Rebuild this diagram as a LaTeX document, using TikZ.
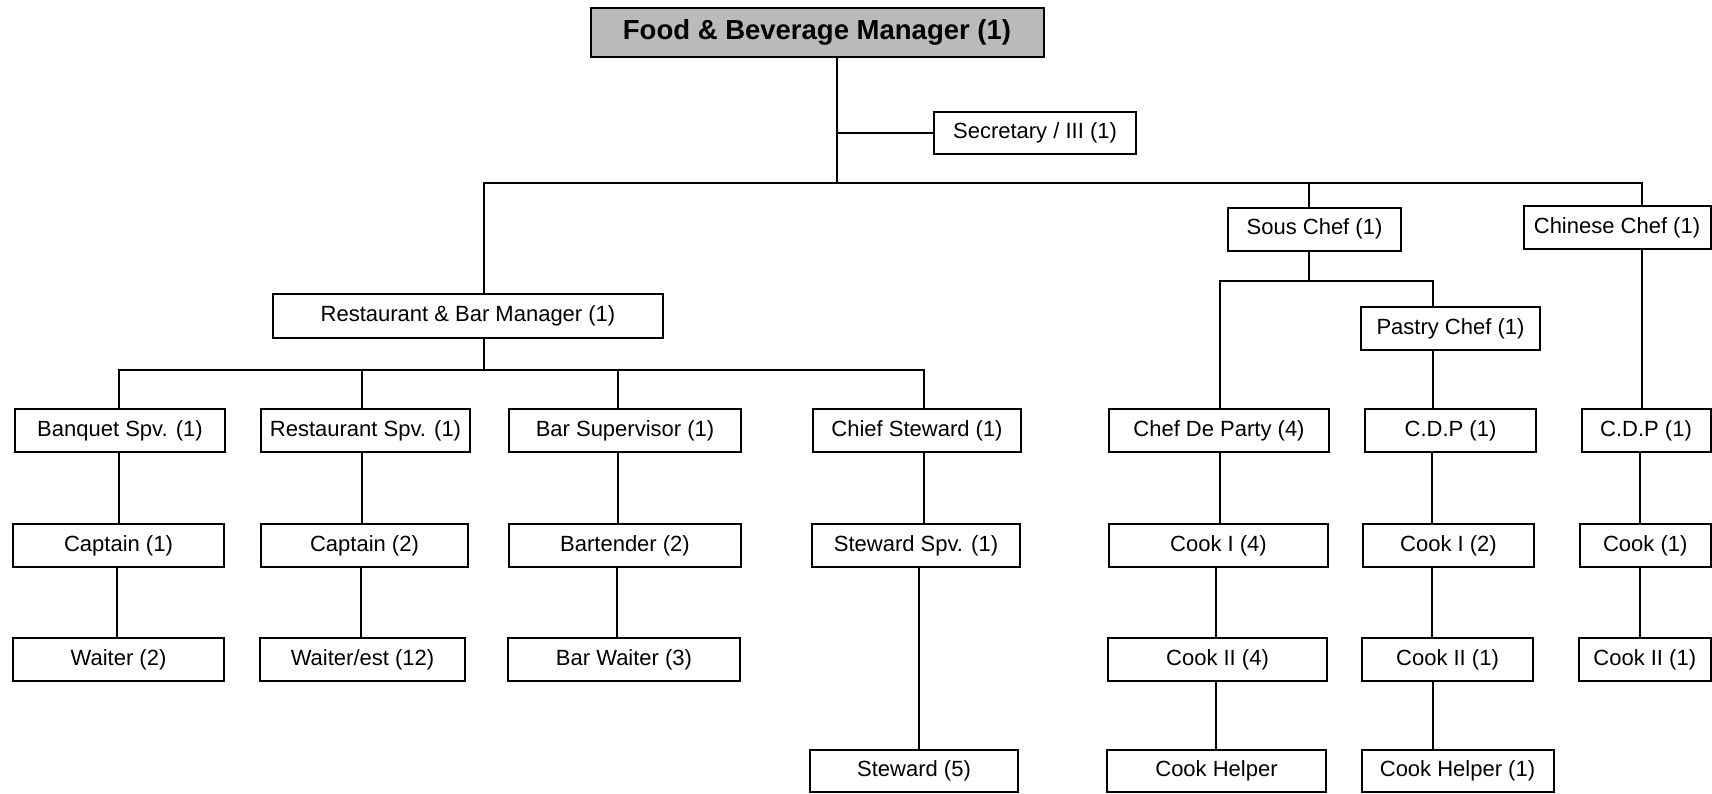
\documentclass[tikz,border=0pt]{standalone}
\usepackage{fontspec}
\setmainfont{Liberation Sans}
\begin{document}
\begin{tikzpicture}[x=0.5pt,y=-0.5pt,
  box/.style={draw, line width=1pt, inner sep=0pt,
    font=\fontsize{11pt}{13pt}\selectfont, minimum height=21.5pt},
  headbox/.style={box, fill=black!27, minimum height=24.5pt,
    font=\fontsize{13.75pt}{16pt}\selectfont\bfseries},
  link/.style={line width=0.9pt},
]
\useasboundingbox (0,0) rectangle (1712,793);

% column and bus positions
\coordinate (xfb) at (837,0);
\coordinate (xrb) at (484,0);
\coordinate (xsc) at (1309,0);
\coordinate (xcc) at (1642,0);
\coordinate (xbq) at (119,0);
\coordinate (xbqb) at (117,0);
\coordinate (xrs) at (362,0);
\coordinate (xrsb) at (361,0);
\coordinate (xbs) at (618,0);
\coordinate (xbsb) at (617,0);
\coordinate (xcs) at (924,0);
\coordinate (xcsb) at (919,0);
\coordinate (xcdp) at (1220,0);
\coordinate (xcdpb) at (1216,0);
\coordinate (xpc) at (1433,0);
\coordinate (xpcb) at (1432,0);
\coordinate (xch) at (1640,0);
\coordinate (y1) at (0,183);
\coordinate (y2) at (0,370);
\coordinate (y3) at (0,281);

% top level
\node[headbox, minimum width=226.5pt] (fb) at (817,32.5) {Food \& Beverage Manager (1)};
\node[box, minimum width=101pt, minimum height=21pt] (sec) at (1035,133) {Secretary / III (1)};

% second level
\node[box, minimum width=195pt, minimum height=22pt] (rb) at (468,316) {Restaurant \& Bar Manager (1)};
\node[box, minimum width=86.5pt] (sc) at (1314.5,229) {Sous Chef (1)};
\node[box, minimum width=93.5pt] (cc) at (1617,227.5) {Chinese Chef (1)};
\node[box, minimum width=89.5pt, minimum height=21.5pt] (pc) at (1450.5,328.5) {Pastry Chef (1)};

% supervisors
\node[box, minimum width=105pt] (bq) at (120,430.5) {Banquet Spv. (1)};
\node[box, minimum width=104.5pt] (rs) at (365.5,430.5) {Restaurant Spv. (1)};
\node[box, minimum width=116pt] (bs) at (625,430.5) {Bar Supervisor (1)};
\node[box, minimum width=104pt] (cs) at (917,430.5) {Chief Steward (1)};
\node[box, minimum width=110pt] (cdp) at (1219,430.5) {Chef De Party (4)};
\node[box, minimum width=85.5pt] (cdpa) at (1450.5,430.5) {C.D.P (1)};
\node[box, minimum width=64.5pt] (cdpb) at (1646,430.5) {C.D.P (1)};

% fourth row
\node[box, minimum width=105.5pt] (capa) at (118.5,545.5) {Captain (1)};
\node[box, minimum width=103.5pt] (capb) at (364.5,545.5) {Captain (2)};
\node[box, minimum width=116pt] (bt) at (625,545.5) {Bartender (2)};
\node[box, minimum width=104pt] (ss) at (916,545.5) {Steward Spv. (1)};
\node[box, minimum width=109.5pt] (cka) at (1218.5,545.5) {Cook I (4)};
\node[box, minimum width=85.5pt] (ckb) at (1448.5,545.5) {Cook I (2)};
\node[box, minimum width=65.25pt] (ckc) at (1645.25,545.5) {Cook (1)};

% fifth row
\node[box, minimum width=105.5pt] (wt) at (118.5,659.5) {Waiter (2)};
\node[box, minimum width=102.5pt] (we) at (362.5,659.5) {Waiter/est (12)};
\node[box, minimum width=116pt] (bw) at (624,659.5) {Bar Waiter (3)};
\node[box, minimum width=109.5pt] (cta) at (1217.5,659.5) {Cook II (4)};
\node[box, minimum width=85.5pt] (ctb) at (1447.5,659.5) {Cook II (1)};
\node[box, minimum width=65.75pt] (ctc) at (1644.75,659.5) {Cook II (1)};

% bottom row
\node[box, minimum width=104pt, minimum height=21pt] (st) at (914,771) {Steward (5)};
\node[box, minimum width=109.5pt, minimum height=21pt] (cha) at (1216.5,771) {Cook Helper};
\node[box, minimum width=96pt, minimum height=21pt] (chb) at (1457.5,771) {Cook Helper (1)};

% main bus
\draw[link] (fb.south -| xfb) -- (xfb |- y1);
\draw[link] (sec.west) -- (sec.west -| xfb);
\draw[link] (rb.north -| xrb) -- (xrb |- y1) -- (xcc |- y1) -- (cc.north -| xcc);
\draw[link] (sc.north -| xsc) -- (xsc |- y1);

% restaurant & bar branch
\draw[link] (rb.south -| xrb) -- (xrb |- y2);
\draw[link] (bq.north -| xbq) -- (xbq |- y2) -- (xcs |- y2) -- (cs.north -| xcs);
\draw[link] (rs.north -| xrs) -- (xrs |- y2);
\draw[link] (bs.north -| xbs) -- (xbs |- y2);
\draw[link] (bq.south -| xbq) -- (capa.north -| xbq);
\draw[link] (capa.south -| xbqb) -- (wt.north -| xbqb);
\draw[link] (rs.south -| xrs) -- (capb.north -| xrs);
\draw[link] (capb.south -| xrsb) -- (we.north -| xrsb);
\draw[link] (bs.south -| xbs) -- (bt.north -| xbs);
\draw[link] (bt.south -| xbsb) -- (bw.north -| xbsb);
\draw[link] (cs.south -| xcs) -- (ss.north -| xcs);
\draw[link] (ss.south -| xcsb) -- (st.north -| xcsb);

% kitchen branch
\draw[link] (sc.south -| xsc) -- (xsc |- y3);
\draw[link] (cdp.north -| xcdp) -- (xcdp |- y3) -- (xpc |- y3) -- (pc.north -| xpc);
\draw[link] (cdp.south -| xcdp) -- (cka.north -| xcdp);
\draw[link] (cka.south -| xcdpb) -- (cta.north -| xcdpb);
\draw[link] (cta.south -| xcdpb) -- (cha.north -| xcdpb);
\draw[link] (pc.south -| xpc) -- (cdpa.north -| xpc);
\draw[link] (cdpa.south -| xpcb) -- (ckb.north -| xpcb);
\draw[link] (ckb.south -| xpcb) -- (ctb.north -| xpcb);
\draw[link] (ctb.south -| xpc) -- (chb.north -| xpc);
\draw[link] (cc.south -| xcc) -- (cdpb.north -| xcc);
\draw[link] (cdpb.south -| xch) -- (ckc.north -| xch);
\draw[link] (ckc.south -| xch) -- (ctc.north -| xch);
\end{tikzpicture}
\end{document}
